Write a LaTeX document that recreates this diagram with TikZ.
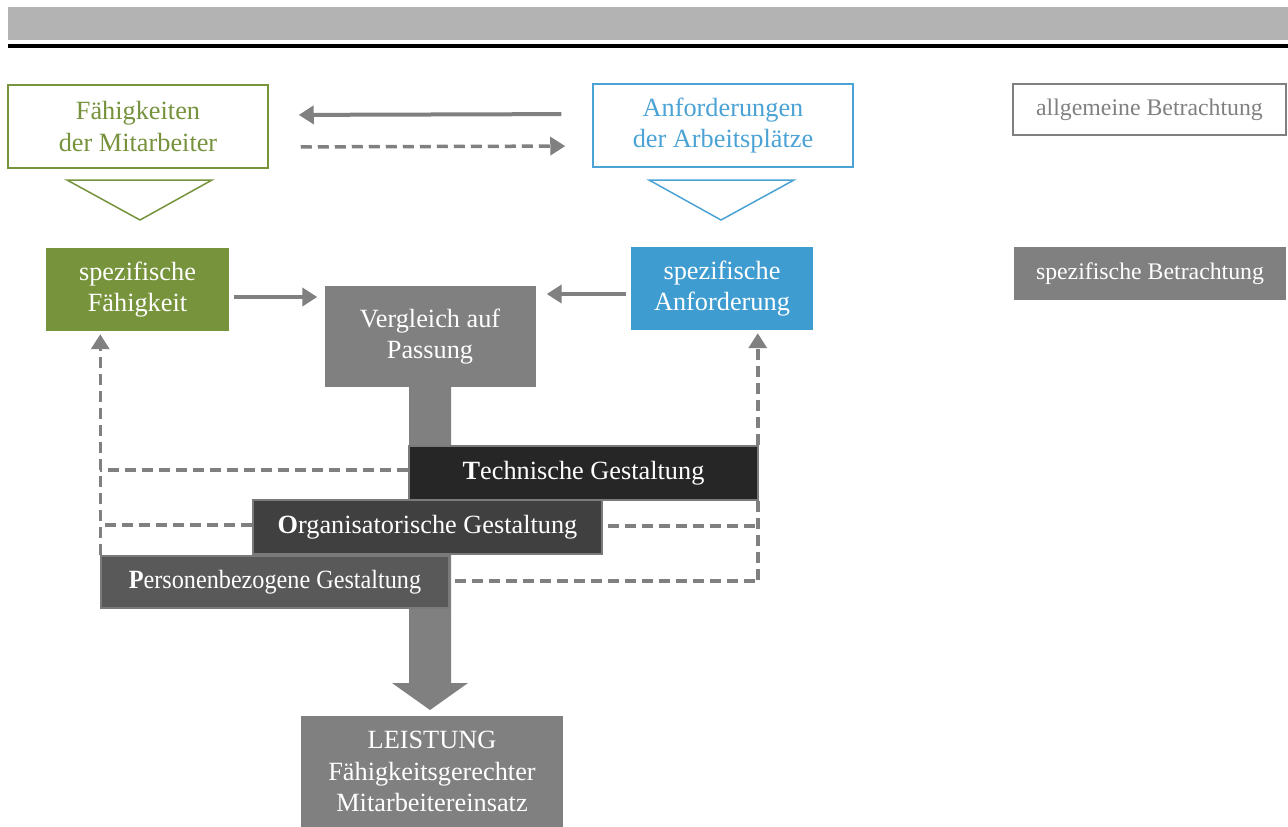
\documentclass[tikz,border=0pt]{standalone}
\usepackage{fontspec}
\usepackage{graphicx}
\setmainfont{Liberation Serif}
\usetikzlibrary{arrows.meta}

\definecolor{fgreen}{HTML}{77933C}
\definecolor{fgreentext}{HTML}{76923C}
\definecolor{ablue}{HTML}{3E9CD1}
\definecolor{abluetext}{HTML}{4BA3D5}
\definecolor{midgray}{HTML}{808080}
\definecolor{bandgray}{HTML}{B3B3B3}
\definecolor{techfill}{HTML}{262626}
\definecolor{orgfill}{HTML}{404040}
\definecolor{persfill}{HTML}{595959}
\definecolor{rimgray}{HTML}{7A7A7A}

\begin{document}
\begin{tikzpicture}[x=1pt,y=-1pt,
  box/.style={inner sep=0pt, align=center, font=\fontsize{26.3}{31.5}\selectfont},
  outlinebox/.style={box, draw, line width=1.5pt, fill=white},
  solidbox/.style={box, fill=#1, text=white},
  layerbox/.style={box, fill=#1, draw=rimgray, line width=1.5pt, text=white,
    minimum width=349pt, minimum height=54pt},
  legend/.style={inner sep=0pt, align=center, font=\fontsize{23.8}{28}\selectfont,
    minimum width=273pt, minimum height=52pt},
  tip/.style={-{Triangle[width=18pt,length=15pt]}},
  conn/.style={draw=midgray, line width=4pt, tip},
  dashlink/.style={draw=midgray, line width=3.5pt, dash pattern=on 11pt off 6pt},
  funnel/.style={line width=1.5pt, fill=white}
]
\useasboundingbox (0,0) rectangle (1288,827);

% header band and rule
\fill[bandgray] (8,7) rectangle (1288,40);
\fill[black] (8,44) rectangle (1288,48);

% general view
\node[outlinebox, draw=fgreen, text=fgreentext, minimum width=260pt, minimum height=83pt]
  (fm) at (138,126.5) {Fähigkeiten\\der Mitarbeiter};
\node[outlinebox, draw=abluetext, text=abluetext, minimum width=260pt, minimum height=83pt]
  (an) at (723,125.5) {Anforderungen\\der Arbeitsplätze};

% funnels
\draw[funnel, draw=fgreen] (67,180) -- (212,180) -- (140,220) -- cycle;
\draw[funnel, draw=abluetext] (649,180) -- (794,180) -- (721,220) -- cycle;

% legend
\node[legend, draw=midgray, line width=1.5pt, text=midgray, minimum height=51pt]
  (allg) at (1149.5,109.5) {allgemeine Betrachtung};
\node[legend, fill=midgray, text=white, minimum width=272pt, minimum height=53pt]
  (spez) at (1150,273.5) {spezifische Betrachtung};

% specific view
\node[solidbox=fgreen, minimum width=183pt, minimum height=83pt]
  (sf) at (137.5,289.5) {spezifische\\Fähigkeit};
\node[solidbox=ablue, minimum width=182pt, minimum height=83pt]
  (sa) at (722,288.5) {spezifische\\Anforderung};
\node[solidbox=midgray, minimum width=211pt, minimum height=101pt]
  (vg) at (430,336.5) {Vergleich auf\\Passung};
\node[solidbox=midgray, minimum width=262pt, minimum height=111pt]
  (le) at (432,771.5) {LEISTUNG\\Fähigkeitsgerechter\\Mitarbeitereinsatz};

% broad flow from the comparison to the result
\fill[midgray] (409,387) -- (451,387) -- (451,683) -- (468,683) -- (430,710)
  -- (392,683) -- (409,683) -- cycle;

% design layers
\node[layerbox=techfill] (tg) at (583.5,473) {\textbf{T}echnische Gestaltung};
\node[layerbox=orgfill] (og) at (427.5,527) {\textbf{O}rganisatorische Gestaltung};
\node[layerbox=persfill, minimum width=348pt, minimum height=52pt]
  (pg) at (275,582) {\scalebox{0.92}[1]{\textbf{P}ersonenbezogene Gestaltung}};

% connectors between the top boxes
\draw[conn, shorten <=31pt, shorten >=30pt]
  ([yshift=11.5pt]an.west) -- ([yshift=11.5pt]fm.east);
\draw[dashlink, tip, shorten <=32pt, shorten >=27pt]
  ([yshift=-20.5pt]fm.east) -- ([yshift=-20.5pt]an.west);

% connectors into the comparison
\draw[conn, shorten <=5pt, shorten >=7pt]
  ([yshift=-7.5pt]sf.east) -- ([yshift=-7.5pt]sf.east -| vg.west);
\draw[conn, shorten <=5pt, shorten >=11pt]
  ([yshift=-5.5pt]sa.west) -- ([yshift=-5.5pt]sa.west -| vg.east);

% feedback from the design layers
\draw[dashlink, tip, shorten >=3pt]
  (pg.north west) -- (sf.south -| pg.north west);
\draw[dashlink] ([yshift=3pt]tg.west) -- ([yshift=3pt]tg.west -| pg.north west);
\draw[dashlink] ([yshift=2pt]og.west) -- ([yshift=2pt]og.west -| pg.north west);

\draw[dashlink, tip, shorten >=3pt]
  ([xshift=-1pt]tg.north east) -- ([xshift=-1pt]sa.south -| tg.north east);
\draw[dashlink] ([xshift=-1pt]tg.south east) -- ([xshift=-1pt,yshift=1pt]pg.east -| tg.south east);
\draw[dashlink, shorten <=5pt] ([yshift=1pt]og.east) -- ([yshift=1pt]og.east -| tg.east);
\draw[dashlink, shorten <=5pt] ([yshift=1pt]pg.east) -- ([yshift=1pt]pg.east -| tg.east);
\end{tikzpicture}
\end{document}
